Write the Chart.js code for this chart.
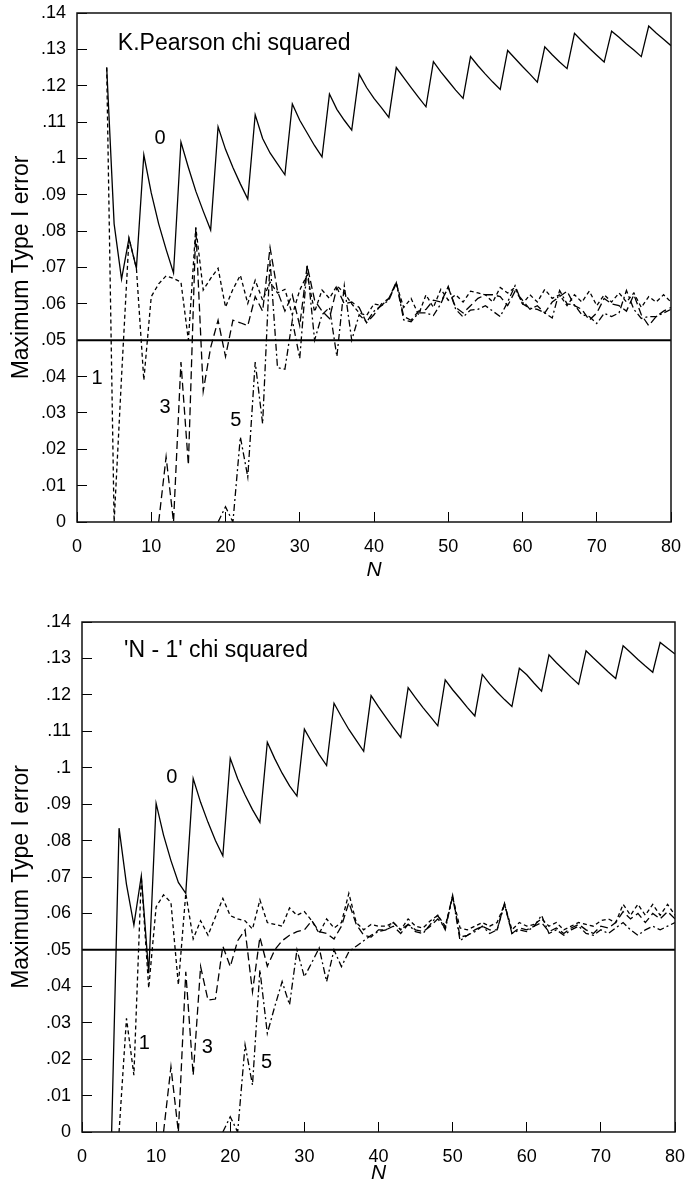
<!DOCTYPE html>
<html>
<head>
<meta charset="utf-8">
<script src="https://cdn.jsdelivr.net/npm/chart.js@4.4.0/dist/chart.umd.min.js"></script>
<style>
  body { margin: 0; background: #fff; }
  canvas { display: block; }
</style>
</head>
<body>
<canvas id="pearson-chart" width="685" height="580"></canvas>
<canvas id="nminus1-chart" width="685" height="606"></canvas>
<script>
// Nivel nominal (linea horizontal)
const alphaLevel = 0.05;
const refN = [0, 80];

// ---- K. Pearson chi squared: error maximo por N, segun el minimo esperado (0, 1, 3, 5)
const pearsonStart0 = 4;
const pearson0 = [
  .125, .082, .0668, .078, .0698, .101, .0905, .082, .075, .0685,
  .1045, .0975, .091, .0855, .0803,
  .1087, .1025, .0975, .093, .0888,
  .112, .1055, .1015, .0985, .0955,
  .115, .1105, .107, .1035, .1004,
  .1177, .1135, .1105, .1078,
  .1232, .1195, .1165, .114, .1113,
  .125, .1222, .1195, .1168, .1142,
  .1266, .1238, .1213, .1188, .1165,
  .128, .1255, .1232, .121, .119,
  .1297, .1275, .1253, .1232, .121,
  .1307, .1285, .1265, .1247,
  .1344, .1323, .1303, .1284, .1265,
  .135, .1333, .1315, .1298, .128,
  .1364, .1345, .1328, .131
];
const pearsonStart1 = 4;
const pearson1 = [
  .125, 0, .04, .078, .0698, .039, .062, .0655, .0677, .067,
  .066, .05, .081, .0638, .067, .0698, .0591, .064, .0679, .0601,
  .0665, .061, .066, .063, .064, .057, .0638, .068, .0578, .0638,
  .0615, .065, .063, .06, .0575, .0568, .06,
  .0595, .0615, .0655, .059, .0615, .057, .0625, .059, .064, .061,
  .0625, .0605, .0635, .063, .0625, .0605, .0645, .063, .0645, .06,
  .0625, .0605, .064, .0615, .0625, .0595, .0625, .0605, .0635, .0595,
  .0625, .0605, .063, .0605, .063, .059, .062, .0605, .0625, .0605
];
const pearsonStart3 = 11;
const pearson3 = [
  0, .0179, 0, .044, .0157, .081, .036, .048, .0555, .0455,
  .0555, .0548, .054, .062, .058, .0755, .0635, .058, .0625, .054,
  .0705, .061, .058, .056, .0645, .06, .0605, .059, .0548, .057,
  .06, .0615, .066, .0565, .0555, .058, .0585, .061, .0605, .0645,
  .059, .0575, .0595, .0615, .0625, .0625, .062, .0595, .0635, .061,
  .0585, .0595, .0575, .0605, .062, .0635, .0595, .0585, .0555, .0575,
  .0615, .06, .0595, .058, .0625, .057, .054, .0565, .058, .059
];
const pearsonStart5 = 19;
const pearson5 = [
  0, .0042, 0, .0234, .0124, .044, .027, .072, .0425, .042,
  .0555, .045, .0705, .05, .057, .059, .0455, .065, .05, .057,
  .055, .058, .0595, .061, .0658, .0556, .0551, .0575, .0575, .0568,
  .06, .0648, .0585, .0564, .0583, .0585, .0595, .058, .0565, .0605,
  .065, .06, .0588, .0585, .0575, .0561, .0637, .06, .0597, .057,
  .0565, .0546, .0574, .0565, .0575, .0637, .0585, .056, .0565, .0565,
  .0575, .0585
];

// ---- 'N - 1' chi squared
const nm1Start0 = 4;
const nm1_0 = [
  0, .0834, .068, .0568, .0703, .0436, .0902, .0815, .0745, .0685,
  .0655, .097, .0905, .085, .080, .0758, .1026, .097, .0925, .0885,
  .085, .107, .1025, .0985, .095, .0922, .1106, .107, .1036, .1006,
  .1177, .114, .1105, .1075, .1045, .1198, .1167, .1138, .111, .1083,
  .122, .1192, .1165, .114, .1115, .1241, .1214, .119, .1165, .1142,
  .1256, .123, .1208, .1187, .1168, .1273, .1255, .1232, .121, .131,
  .1288, .1268, .1248, .1229, .1321, .1301, .1282, .1263, .1245, .1335,
  .1316, .1297, .1279, .1262, .1344, .1328, .1312
];
const nm1Start1 = 5;
const nm1_1 = [
  0, .0312, .0156, .07, .0395, .0618, .0651, .063, .0404, .0655,
  .053, .058, .054, .059, .0641, .0594, .0585, .058, .0557, .0637,
  .0575, .057, .0565, .0615, .0595, .0605, .058, .0545, .0585, .056,
  .0575, .0655, .0575, .0555, .057, .0565,
  .0565, .0575, .0555, .0585, .0565, .056, .058, .0595, .0565, .0645,
  .056, .0555, .0565, .0575, .0565, .0575, .0625, .0555, .0575, .0565,
  .057, .0585, .0565, .0575, .0555, .0565, .0575, .057, .0565, .058,
  .0585, .0575, .0625, .0595, .0625, .0595, .0625, .0595, .0625, .0595
];
const nm1Start3 = 11;
const nm1_3 = [
  0, .0179, 0, .044, .0156, .0454, .0362, .0365, .051, .0454,
  .0525, .0555, .0385, .0535, .0455, .05, .0525, .054, .055, .0555,
  .058, .055, .0545, .053, .0565, .063, .057, .054, .0535, .0555,
  .0555, .0565, .0545, .057, .0555, .055, .0565, .0585, .056, .065,
  .0535, .054, .0555, .0565, .0555, .0555, .0628, .0545, .056, .0555,
  .0565, .0575, .055, .056, .0545, .056, .057, .0555, .0545, .0565,
  .056, .0575, .0605, .0585, .06, .0575, .06, .0585, .0605, .0585
];
const nm1Start5 = 19;
const nm1_5 = [
  0, .0042, 0, .0239, .0129, .0445, .0271, .0344, .0413, .0349,
  .05, .0426, .0465, .0505, .0413, .05, .0454, .0495, .051, .0525,
  .054, .055, .0555, .0575, .0555, .057, .055, .0545, .057, .0595,
  .0555, .0648, .0525, .054, .055, .0565, .0545, .0555, .0625, .0545,
  .0555, .055, .0565, .0595, .0545, .0555, .054, .0555, .0565, .0545,
  .054, .0555, .0545, .056, .0575, .0555, .054, .0555, .0565, .0555,
  .0565, .0575
];

// Etiquetas dentro del grafico (en coordenadas de datos)
const pearsonNotes = [
  { text: 'K.Pearson chi squared', x: 5.5, y: .1315, size: 23, align: 'left' },
  { text: '0', x: 11.2, y: .1056, size: 20 },
  { text: '1', x: 2.7, y: .0396, size: 20 },
  { text: '3', x: 11.85, y: .0316, size: 20 },
  { text: '5', x: 21.4, y: .0278, size: 20 }
];
const nm1Notes = [
  { text: "'N - 1' chi squared", x: 5.67, y: .132, size: 23, align: 'left' },
  { text: '0', x: 12.1, y: .0972, size: 20 },
  { text: '1', x: 8.4, y: .0244, size: 20 },
  { text: '3', x: 16.9, y: .0231, size: 20 },
  { text: '5', x: 24.9, y: .0192, size: 20 }
];

const FONT = '"Liberation Sans", Arial, sans-serif';
const TICK_FONT = { family: '"Liberation Sans Narrow", "Liberation Sans", sans-serif', size: 18 };
Chart.defaults.font.family = FONT;
Chart.defaults.color = '#000';

function toPoints(start, values) {
  return values.map((v, i) => ({ x: start + i, y: v }));
}

function formatTick(value) {
  if (value === 0) return '0';
  return String(Number(value.toFixed(2))).replace(/^0\./, '.');
}

// Marco del area y textos
const framePlugin = {
  id: 'frame',
  afterDatasetsDraw(chart, args, opts) {
    const { ctx, chartArea: a, scales: { x, y } } = chart;
    ctx.save();
    ctx.strokeStyle = '#111';
    ctx.lineWidth = 1.5;
    ctx.strokeRect(a.left, a.top, a.right - a.left, a.bottom - a.top);
    ctx.fillStyle = '#000';
    ctx.textBaseline = 'middle';
    opts.notes.forEach(n => {
      ctx.font = n.size + 'px ' + FONT;
      ctx.textAlign = n.align || 'center';
      ctx.fillText(n.text, x.getPixelForValue(n.x), y.getPixelForValue(n.y));
    });
    ctx.restore();
  }
};

function lineSet(points, dash, width) {
  return {
    data: points,
    borderColor: '#000',
    borderWidth: width || 1.3,
    borderDash: dash,
    pointRadius: 0,
    tension: 0,
    fill: false
  };
}

function generarGrafica(id, series, notes, box) {
  const ctx = document.getElementById(id).getContext('2d');
  return new Chart(ctx, {
    type: 'line',
    data: {
      datasets: [
        lineSet(refN.map(n => ({ x: n, y: alphaLevel })), [], 2),
        lineSet(series[0], []),
        lineSet(series[1], [4, 3]),
        lineSet(series[2], [8, 4]),
        lineSet(series[3], [7, 3, 2, 3])
      ]
    },
    options: {
      responsive: false,
      animation: false,
      events: [],
      layout: { padding: box.padding },
      plugins: {
        legend: { display: false },
        tooltip: { enabled: false },
        frame: { notes: notes }
      },
      scales: {
        x: {
          type: 'linear',
          min: 0,
          max: 80,
          ticks: { stepSize: 10, padding: 24, font: TICK_FONT, maxRotation: 0 },
          grid: { drawOnChartArea: false, tickLength: -10, color: '#000', lineWidth: 1 },
          border: { display: false },
          title: { display: true, text: 'N', font: { size: 21, style: 'italic' }, padding: { top: 0, bottom: box.nPad } },
          afterFit: s => { s.height = box.xHeight; s.paddingLeft = 0; s.paddingRight = 0; }
        },
        y: {
          type: 'linear',
          min: 0,
          max: 0.14,
          ticks: { stepSize: 0.01, padding: 21, font: TICK_FONT, callback: formatTick },
          grid: { drawOnChartArea: false, tickLength: -10, color: '#000', lineWidth: 1 },
          border: { display: false },
          title: { display: true, text: 'Maximum Type I error', font: { size: 23 }, padding: { top: 8, bottom: 0 } },
          afterFit: s => { s.width = box.yWidth; s.paddingTop = 0; s.paddingBottom = 0; }
        }
      }
    },
    plugins: [framePlugin]
  });
}

generarGrafica('pearson-chart', [
  toPoints(pearsonStart0, pearson0),
  toPoints(pearsonStart1, pearson1),
  toPoints(pearsonStart3, pearson3),
  toPoints(pearsonStart5, pearson5)
], pearsonNotes, { padding: { left: 0, right: 14, top: 13, bottom: 0 }, yWidth: 77, xHeight: 58, nPad: -3 });

generarGrafica('nminus1-chart', [
  toPoints(nm1Start0, nm1_0),
  toPoints(nm1Start1, nm1_1),
  toPoints(nm1Start3, nm1_3),
  toPoints(nm1Start5, nm1_5)
], nm1Notes, { padding: { left: 0, right: 10, top: 42, bottom: 0 }, yWidth: 82, xHeight: 54, nPad: 0 });
</script>
</body>
</html>
